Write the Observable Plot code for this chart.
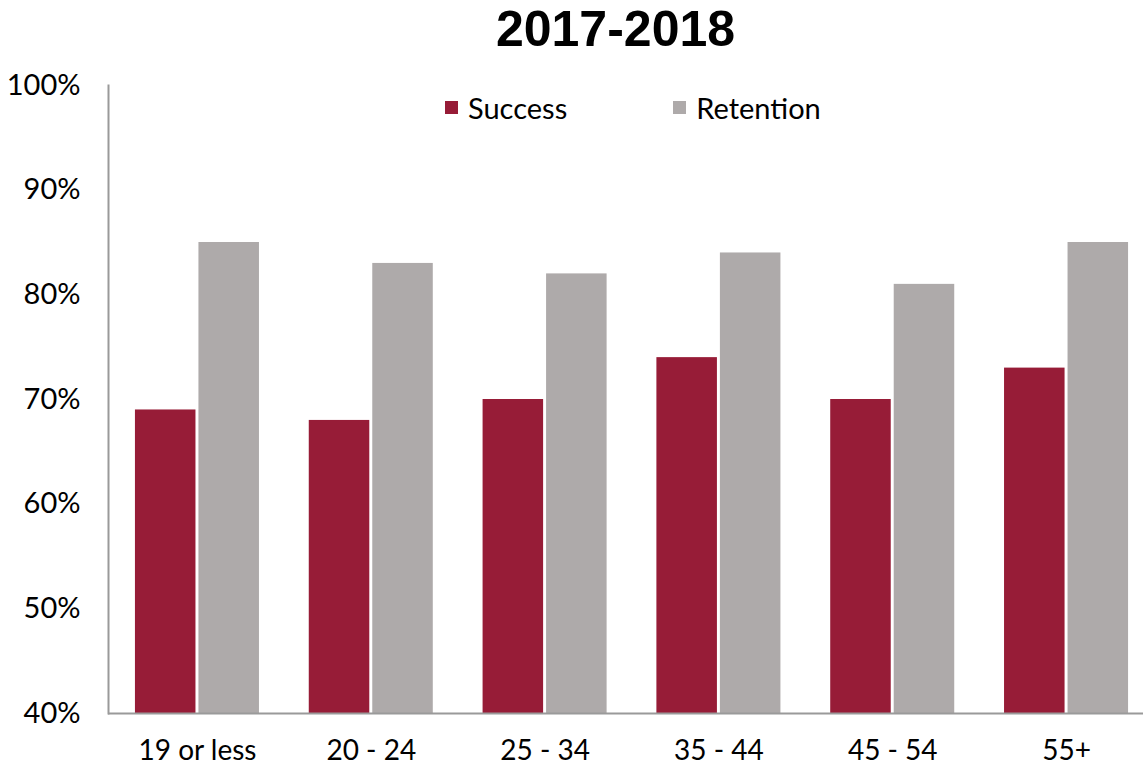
<!DOCTYPE html>
<html>
<head>
<meta charset="utf-8">
<script src="https://cdn.jsdelivr.net/npm/d3@7"></script>
<script src="https://cdn.jsdelivr.net/npm/@observablehq/plot@0.6"></script>
<style>
  html, body { margin: 0; padding: 0; background: #fff; overflow: hidden; }
  #wrap { position: relative; width: 1145px; height: 769px; font-family: Lato, "Open Sans", sans-serif; }
  #title { position: absolute; left: 97px; width: 1037px; top: 0px; text-align: center;
           font-family: "Liberation Sans", Arial, sans-serif; font-weight: bold; font-size: 50px; color: #000; z-index: 2; }
  #legend { position: absolute; top: 90px; left: 445px; font-size: 29px; color: #000; display: flex; z-index: 2; }
  .item { display: flex; align-items: center; }
  .sw { width: 13px; height: 13px; margin-right: 10px; }
  #chart { position: absolute; left: 0; top: 50px; }
</style>
</head>
<body>
<div id="wrap">
  <div id="title">2017-2018</div>
  <div id="chart"></div>
  <div id="legend"></div>
</div>
<script>
const categories = ["19 or less", "20 - 24", "25 - 34", "35 - 44", "45 - 54", "55+"];
const seriesNames = ["Success", "Retention"];
const successValues = [69, 68, 70, 74, 70, 73];
const retentionValues = [85, 83, 82, 84, 81, 85];
const yTicks = [40, 50, 60, 70, 80, 90, 100];
const colors = ["#971c37", "#aeaaaa"];

const successData = categories.map((c, i) => ({category: c, series: "Success", value: successValues[i]}));
const retentionData = categories.map((c, i) => ({category: c, series: "Retention", value: retentionValues[i]}));

const plot = Plot.plot({
  width: 1145,
  height: 719,
  marginTop: 35,
  marginBottom: 56,
  marginLeft: 108,
  marginRight: 2,
  style: {fontFamily: "Lato, 'Open Sans', sans-serif", fontSize: "28px", color: "#000", background: "#fff"},
  x: {domain: categories, range: [108, 1155], round: false, paddingInner: 0.2865, paddingOuter: 0.155, label: null},
  y: {domain: [40, 100], ticks: yTicks, label: null},
  color: {domain: seriesNames, range: colors},
  marks: [
    Plot.barY(successData, {x: "category", y1: 40, y2: "value", fill: "series", insetLeft: 0, insetRight: 63.5}),
    Plot.barY(retentionData, {x: "category", y1: 40, y2: "value", fill: "series", insetLeft: 63.5, insetRight: 0}),
    Plot.axisY({ticks: yTicks, tickFormat: d => d + "%", tickSize: 0, tickPadding: 28, fontSize: 29, label: null}),
    Plot.axisX({tickSize: 0, tickPadding: 27, fontSize: 28, label: null}),
    Plot.frame({anchor: "left", stroke: "#9a9a9a", strokeWidth: 2}),
    Plot.ruleY([40], {stroke: "#9a9a9a", strokeWidth: 2})
  ]
});
document.getElementById("chart").appendChild(plot);

const legend = document.getElementById("legend");
seriesNames.forEach((s, i) => {
  const it = document.createElement("div");
  it.className = "item";
  it.style.marginRight = i === 0 ? "106px" : "0";
  const sw = document.createElement("div");
  sw.className = "sw";
  sw.style.background = colors[i];
  const t = document.createElement("span");
  t.textContent = s;
  it.appendChild(sw); it.appendChild(t);
  legend.appendChild(it);
});
</script>
</body>
</html>
